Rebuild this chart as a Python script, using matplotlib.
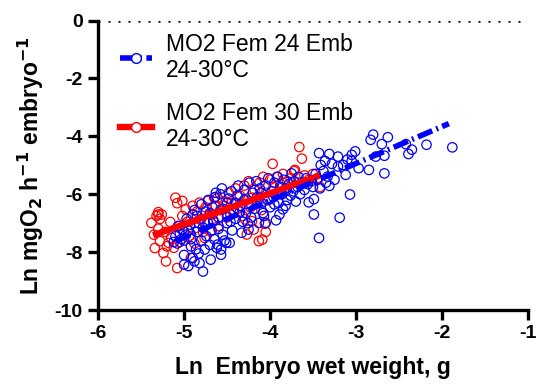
import matplotlib
matplotlib.use("Agg")
import matplotlib.pyplot as plt
from matplotlib.lines import Line2D

plt.rcParams['font.family'] = ['Liberation Sans', 'DejaVu Sans']
plt.rcParams['mathtext.default'] = 'bf'

# ---- data ----
blue_x = [-5.12, -5.10, -5.08, -5.05, -5.03, -5.02, -5.00, -4.98, -5.00, -5.00, -4.95, -4.93, -4.92, -4.90, -4.88,
          -4.95, -4.97, -4.90, -4.88, -4.92, -5.07, -4.86,
          -4.85, -4.83, -4.82, -4.80, -4.78, -4.78, -4.76, -4.75, -4.74, -4.72, -4.72, -4.70, -4.69, -4.68, -4.67,
          -4.66, -4.65, -4.64, -4.63, -4.62, -4.61, -4.60, -4.60, -4.58, -4.57, -4.57, -4.56, -4.55, -4.55, -4.80,
          -4.85, -4.83, -4.76, -4.70,
          -4.53, -4.51, -4.50, -4.50, -4.48, -4.47, -4.46, -4.45, -4.44, -4.42, -4.40, -4.38, -4.37, -4.35, -4.33,
          -4.32, -4.30, -4.30, -4.28, -4.26, -4.25, -4.24, -4.22, -4.20, -4.22, -4.35, -4.40, -4.46,
          -4.18, -4.16, -4.15, -4.13, -4.12, -4.10, -4.08, -4.05, -4.07, -4.05, -4.03, -4.02, -4.00, -3.98, -3.96,
          -3.95, -3.93, -3.91, -3.90, -3.89, -3.88, -3.86, -3.85, -3.84, -3.82, -3.81, -3.80, -4.10, -3.95,
          -3.78, -3.76, -3.75, -3.73, -3.72, -3.70, -3.68, -3.67, -3.65, -3.63, -3.60, -3.58, -3.56, -3.55, -3.52,
          -3.50, -3.49, -3.49, -3.47, -3.45, -3.43, -3.43, -3.41, -3.42,
          -3.38, -3.35, -3.33, -3.31, -3.31, -3.28, -3.25, -3.21, -3.21, -3.19, -3.15, -3.12, -3.10, -3.07, -3.05,
          -3.05, -3.01, -2.97, -2.85, -2.83, -2.80, -2.77, -2.70, -2.67, -2.67, -2.63, -2.42, -2.39, -2.35, -2.18,
          -1.88, -3.36]
blue_y = [-7.65, -7.45, -7.70, -7.35, -7.55, -7.20, -7.60, -7.40, -8.10, -8.43, -8.48, -7.05, -7.80, -8.20, -8.32,
          -7.25, -6.85, -6.70, -6.55, -7.55, -7.10, -7.90,
          -7.30, -8.05, -8.38, -7.60, -8.67, -7.15, -7.91, -6.60, -7.45, -6.20, -7.00, -7.75, -8.26, -7.25, -6.45,
          -6.90, -7.55, -6.10, -5.95, -7.85, -7.74, -6.80, -7.20, -6.00, -8.09, -7.91, -5.80, -6.50, -7.40, -6.35,
          -6.75, -7.00, -6.95, -6.65,
          -7.60, -7.68, -6.30, -7.00, -6.15, -7.68, -6.70, -5.90, -7.25, -6.55, -6.85, -6.05, -5.70, -6.40, -7.33,
          -6.95, -6.20, -5.85, -6.65, -7.00, -7.22, -5.60, -6.35, -5.95, -6.80, -6.60, -6.30, -6.95,
          -6.50, -5.55, -6.10, -6.99, -5.80, -6.30, -6.65, -6.99, -6.75, -5.70, -6.20, -5.45, -6.45, -5.90, -6.10,
          -5.60, -6.90, -5.40, -6.30, -6.70, -5.75, -6.00, -6.52, -5.50, -6.40, -5.85, -6.20, -5.95, -6.35,
          -5.65, -6.05, -5.28, -5.90, -5.55, -6.25, -5.75, -5.40, -6.00, -5.60, -5.85, -5.45, -5.65, -6.28, -5.55,
          -5.75, -6.17, -6.70, -5.30, -5.50, -7.51, -4.58, -4.99, -5.80,
          -5.20, -5.60, -5.39, -4.61, -5.71, -4.95, -5.50, -4.70, -5.04, -6.81, -4.99, -5.33, -4.80, -6.01, -4.64,
          -4.85, -4.52, -5.10, -5.16, -4.12, -3.94, -4.70, -4.27, -4.67, -5.28, -4.03, -4.27, -4.61, -4.46, -4.29,
          -4.38, -4.85]

red_x = [-5.38, -5.35, -5.32, -5.30, -5.30, -5.34, -5.28, -5.28, -5.24, -5.21, -5.22, -5.20, -5.18, -5.16, -5.15,
         -5.12, -5.10, -5.08, -5.08, -5.06, -5.05, -5.02, -5.02, -5.00, -4.98, -4.96, -4.94, -4.92, -4.90, -4.88,
         -4.86, -4.85, -4.82, -4.80, -4.78, -4.76, -4.75, -4.72, -4.70, -4.69, -4.67, -4.66, -4.65, -4.63, -4.61,
         -4.60, -4.58, -4.55, -4.53, -4.50, -4.48, -4.45, -4.43, -4.41, -4.40, -4.38, -4.35, -4.32, -4.30, -4.29,
         -4.27, -4.25, -4.23, -4.21, -4.21, -4.19, -4.18, -4.15, -4.13, -4.12, -4.10, -4.09, -4.08, -4.05, -4.05,
         -4.02, -4.00, -3.97, -3.96, -3.92, -3.90, -3.88, -3.85, -3.82, -3.80, -3.76, -3.72, -3.71, -3.68, -3.66,
         -3.63, -3.60, -3.55, -3.50, -3.45, -3.42, -5.30, -5.26, -4.27, -4.06]
red_y = [-6.99, -7.40, -6.75, -6.70, -7.19, -7.86, -7.62, -6.85, -8.03, -8.32, -7.30, -7.80, -7.68, -6.96, -7.50,
         -7.85, -6.12, -6.31, -8.55, -7.10, -7.65, -6.23, -6.75, -7.30, -6.52, -6.95, -7.45, -8.20, -6.40, -7.70,
         -7.16, -6.60, -6.29, -6.85, -7.30, -7.51, -6.45, -6.23, -6.70, -7.28, -6.70, -6.95, -6.12, -6.40, -6.12,
         -7.10, -6.55, -6.25, -6.41, -6.80, -5.95, -6.30, -6.60, -6.29, -5.80, -6.50, -6.05, -6.75, -5.70, -6.87,
         -6.20, -5.55, -6.45, -6.93, -6.12, -7.22, -5.85, -6.30, -7.62, -5.60, -6.55, -7.57, -5.40, -7.30, -5.95,
         -6.20, -5.50, -4.95, -5.75, -5.40, -6.00, -5.65, -5.30, -5.80, -5.55, -5.45, -5.20, -5.16, -5.60, -4.37,
         -4.77, -5.35, -5.50, -5.30, -5.45, -5.75, -6.62, -6.70, -7.39, -7.02]

blue_fit_x = [-5.10, -1.92]
blue_fit_y = [-7.62, -3.56]
red_fit_x = [-5.36, -3.42]
red_fit_y = [-7.42, -5.35]

x_ticks = [-6, -5, -4, -3, -2, -1]
y_ticks = [0, -2, -4, -6, -8, -10]
labels = ["MO2 Fem 24 Emb\n24-30°C", "MO2 Fem 30 Emb\n24-30°C"]

BLUE = '#0000FF'
RED = '#FF0000'

fig = plt.figure(figsize=(5.36, 3.88), dpi=100)
ax = fig.add_axes([0.183, 0.201, 0.802, 0.746])

ax.scatter(red_x, red_y, s=46, facecolors='none', edgecolors=RED, linewidths=0.9, zorder=2)
ax.scatter(blue_x, blue_y, s=46, facecolors='none', edgecolors=BLUE, linewidths=0.9, zorder=3)
ax.plot(red_fit_x, red_fit_y, color=RED, lw=4.6, solid_capstyle='butt', zorder=4)
blue_ls = (0, (2.8, 0.8, 0.35, 0.8))
ax.plot(blue_fit_x, blue_fit_y, color=BLUE, lw=4.0, linestyle=blue_ls, zorder=5)

ax.axhline(0, color='black', lw=1.8, linestyle=(0, (0.8, 3.2)), zorder=1)

ax.set_xlim(-6, -1)
ax.set_ylim(-10, 0)
ax.set_xticks(x_ticks)
ax.set_yticks(y_ticks)
ax.set_xticklabels([str(v) for v in x_ticks], fontweight='bold', fontsize=14)
ax.set_yticklabels([str(v) for v in y_ticks], fontweight='bold', fontsize=14)
for s in ['top', 'right']:
    ax.spines[s].set_visible(False)
for s in ['left', 'bottom']:
    ax.spines[s].set_linewidth(2.4)
ax.tick_params(axis='both', direction='out', length=7, width=2.4, pad=4)

ax.set_xlabel("Ln  Embryo wet weight, g", fontweight='bold', fontsize=16.5, labelpad=10)
ax.set_ylabel("Ln mgO$_\\mathbf{2}$ h$^\\mathbf{-1}$ embryo$^\\mathbf{-1}$", fontweight='bold',
              fontsize=16.5, labelpad=6)

h1 = Line2D([], [], color=BLUE, lw=4.0, linestyle=blue_ls, marker='o', mfc='white', mec=BLUE, ms=7)
h2 = Line2D([], [], color=RED, lw=4.6, marker='o', mfc='white', mec=RED, ms=7)
leg = ax.legend([h1, h2], labels, loc='upper left', bbox_to_anchor=(0.03, 0.99), frameon=False,
                fontsize=16.5, handlelength=1.4, handletextpad=0.6, labelspacing=0.85, borderaxespad=0)

fig.savefig("out.png", dpi=100)
